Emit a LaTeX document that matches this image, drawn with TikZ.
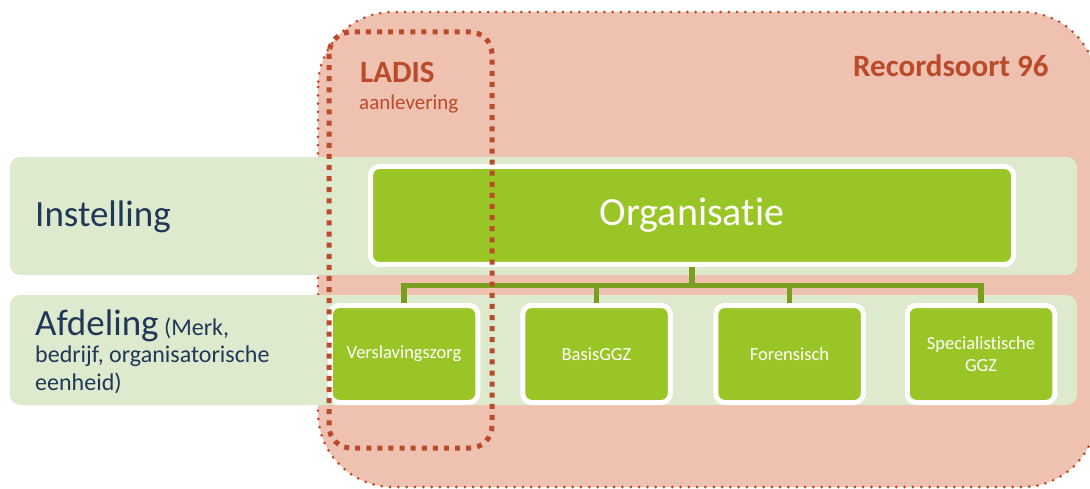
\documentclass[tikz,border=0pt]{standalone}
\usepackage{fontspec}
\setmainfont{Carlito}[Ligatures=NoCommon, RawFeature={-calt}]
\usetikzlibrary{positioning}

\definecolor{salmon}{RGB}{238,193,176}
\definecolor{rust}{RGB}{186,74,42}
\definecolor{bandgreen}{RGB}{222,234,205}
\definecolor{boxgreen}{RGB}{154,197,38}
\definecolor{linkgreen}{RGB}{122,158,32}
\definecolor{navy}{RGB}{31,56,88}

\tikzset{
  recordbox/.style={fill=salmon, draw=rust, line width=3pt, line cap=round,
    dash pattern=on 0pt off 8.3pt, rounded corners=75pt},
  ladisbox/.style={draw=rust, line width=5pt, dash pattern=on 5pt off 6.1pt,
    rounded corners=22pt},
  band/.style={fill=bandgreen, rounded corners=10pt},
  unit/.style={draw=white, line width=5pt, fill=boxgreen, rounded corners=9pt,
    minimum width=147.5pt, minimum height=97pt, inner sep=0pt, text=white,
    align=center, font=\fontsize{18.5}{22}\selectfont},
  tree/.style={draw=linkgreen, line width=5.5pt},
  levellabel/.style={anchor=base west, text=navy, inner sep=0pt, align=left},
  ladislabel/.style={anchor=base west, text=rust, inner sep=0pt},
}

\begin{document}
\begin{tikzpicture}[x=1pt,y=-1pt]
  \useasboundingbox (0,0) rectangle (1090,489);

  % recordsoort 96 area
  \draw[recordbox] (318,12) rectangle (1097,487);
  \node[ladislabel, font=\fontsize{31}{37}\selectfont\bfseries] (record) at (853,77) {Recordsoort 96};

  % levels
  \fill[band] (10,157) rectangle (1077,275);
  \fill[band] (10,295) rectangle (1077,405);
  \node[levellabel, font=\fontsize{37}{44}\selectfont] (instelling) at (35,227) {Instelling};
  \node[levellabel, font=\fontsize{24}{27.5}\selectfont] (afdeling) at (35,390)
    {{\fontsize{37}{44}\selectfont Afdeling} (Merk,\\bedrijf, organisatorische\\eenheid)};

  % organisation tree
  \node[unit, minimum width=643pt, minimum height=98pt, font=\fontsize{40}{48}\selectfont] (org) at (692,215.5) {Organisatie};
  \node[unit] (verslaving) at (404,354) {Verslavingszorg};
  \node[unit] (basis) at (596.5,354) {BasisGGZ};
  \node[unit] (forensisch) at (789.5,354) {Forensisch};
  \node[unit] (specialistisch) at (981,354) {Specialistische\\GGZ};

  \coordinate (bus) at (692,285.5);
  \draw[tree] (org.south) -- (bus);
  \draw[tree] (verslaving.north) -- (verslaving.north |- bus) -- (specialistisch.north |- bus) -- (specialistisch.north);
  \foreach \n in {basis,forensisch}
    \draw[tree] (\n.north) -- (\n.north |- bus);

  % LADIS aanlevering
  \draw[ladisbox] (329,32) rectangle (492,448);
  \node[ladislabel, font=\fontsize{31}{37}\selectfont\bfseries] (ladis) at (360,83) {LADIS};
  \node[ladislabel, font=\fontsize{21}{25}\selectfont] (aanlevering) at (359,110) {aanlevering};
\end{tikzpicture}
\end{document}
